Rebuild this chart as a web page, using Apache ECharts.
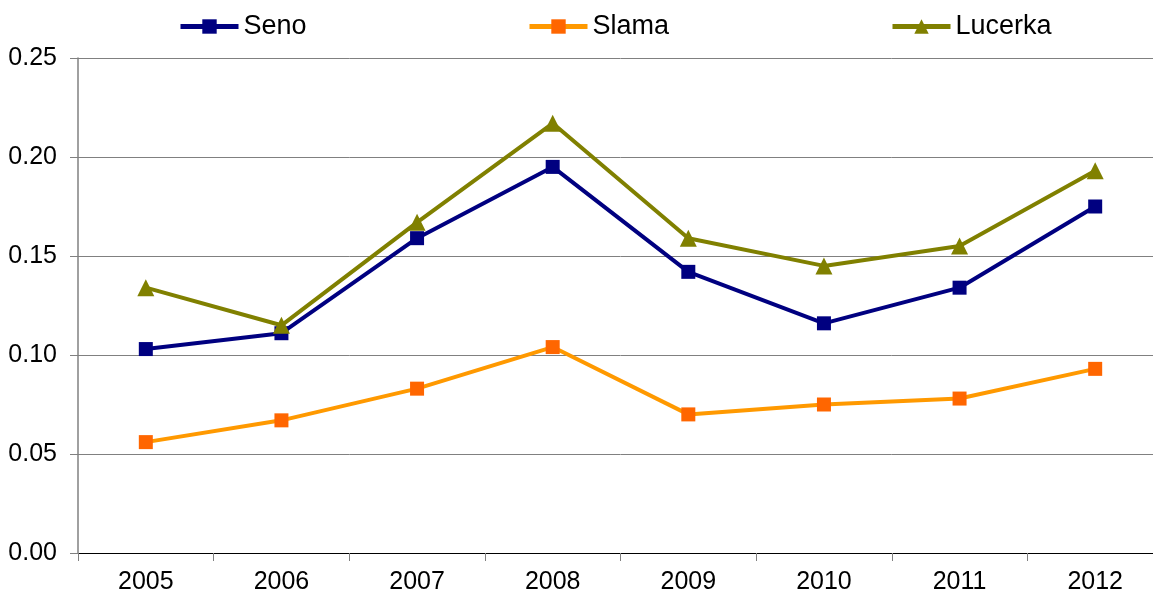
<!DOCTYPE html>
<html>
<head>
<meta charset="utf-8">
<script src="https://cdn.jsdelivr.net/npm/echarts@6/dist/echarts.min.js"></script>
<style>html,body{margin:0;padding:0;background:#fff;overflow:hidden}#c{width:1170px;height:599px}</style>
</head>
<body>
<div id="c"></div>
<script>
var categories = ['2005','2006','2007','2008','2009','2010','2011','2012'];
var seno = [0.103, 0.111, 0.159, 0.195, 0.142, 0.116, 0.134, 0.175];
var slama = [0.056, 0.067, 0.083, 0.104, 0.070, 0.075, 0.078, 0.093];
var lucerka = [0.134, 0.115, 0.167, 0.217, 0.159, 0.145, 0.155, 0.193];
var yTicks = [0, 0.05, 0.10, 0.15, 0.20, 0.25];

var chart = echarts.init(document.getElementById('c'));
var font = 'Liberation Sans, Arial, sans-serif';
function legend(name, left) {
  return {
    data: [name], left: left, top: 8, itemWidth: 58, itemHeight: 18, itemGap: 0,
    lineStyle: {width: 5},
    textStyle: {fontFamily: font, fontSize: 27, color: '#000'}
  };
}
chart.setOption({
  animation: false,
  legend: [legend('Seno', 173), legend('Slama', 522), legend('Lucerka', 885)],
  grid: {left: 78, top: 58, width: 1085, height: 495, containLabel: false},
  xAxis: {
    type: 'category', data: categories, boundaryGap: true,
    axisLine: {lineStyle: {color: '#000', width: 1}},
    axisTick: {show: true, length: 8, lineStyle: {color: '#808080'}},
    axisLabel: {fontFamily: font, fontSize: 25, color: '#000', margin: 17}
  },
  yAxis: {
    type: 'value', min: 0, max: 0.25, interval: 0.05,
    axisLine: {show: true, lineStyle: {color: '#808080', width: 1.5}},
    axisTick: {show: true, length: 8, lineStyle: {color: '#808080'}},
    axisLabel: {fontFamily: font, fontSize: 25, color: '#000', margin: 21,
      formatter: function (v) { return v.toFixed(2); }},
    splitLine: {show: true, lineStyle: {color: '#808080', width: 1}}
  },
  series: [
    {name: 'Seno', type: 'line', data: seno, symbol: 'rect', symbolSize: 14,
     lineStyle: {color: '#000080', width: 4}, itemStyle: {color: '#000080'}},
    {name: 'Slama', type: 'line', data: slama, symbol: 'rect', symbolSize: 14,
     lineStyle: {color: '#FF9900', width: 4}, itemStyle: {color: '#FF6600'}},
    {name: 'Lucerka', type: 'line', data: lucerka, symbol: 'triangle', symbolSize: 17,
     lineStyle: {color: '#808000', width: 4}, itemStyle: {color: '#808000'}}
  ]
});
</script>
</body>
</html>
